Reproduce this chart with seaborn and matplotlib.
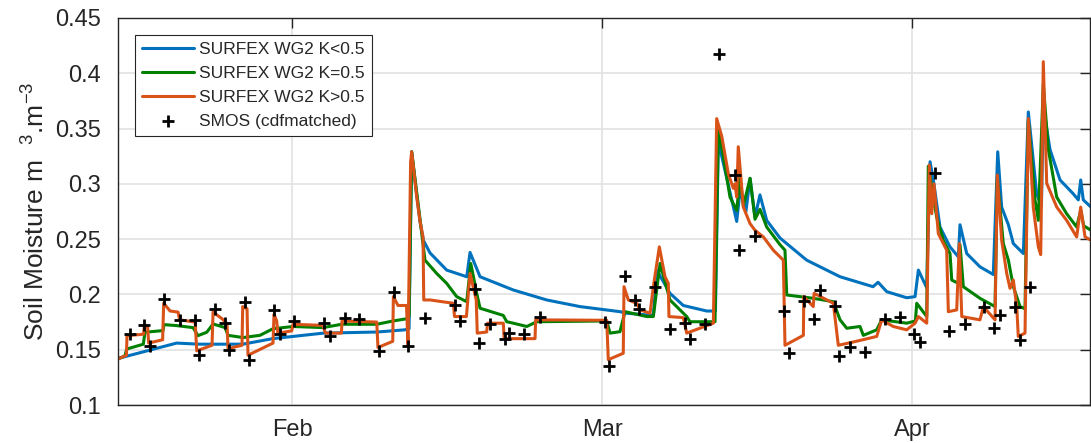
import matplotlib
matplotlib.use("Agg")
import matplotlib.pyplot as plt
import seaborn as sns
from matplotlib.ticker import FormatStrFormatter

sns.set_style("whitegrid")
plt.rcParams["font.family"] = ["Liberation Sans", "DejaVu Sans"]
plt.rcParams["mathtext.fontset"] = "custom"
plt.rcParams["mathtext.rm"] = "Liberation Sans"

# x in days; month ticks sit at equal spacing in the source axis
month_pos = [31, 61, 91]
month_lab = ["Feb", "Mar", "Apr"]

# SURFEX WG2 K<0.5
blue_t = [14.1, 19.8, 22.0, 26.2, 29.1, 34.0, 39.2, 41.9, 42.3, 42.55,
          43.04, 43.36, 43.68, 44.33, 45.94, 47.88, 48.2, 49.17, 52.39, 55.62,
          58.84, 62.71, 63.36, 65.94, 66.27, 67.55, 68.84, 71.11, 71.95, 72.23,
          72.56, 74.01, 74.33, 74.9, 75.3, 75.78, 76.26, 76.91, 78.2, 80.78,
          84.01, 87.2, 87.69, 88.53, 90.46, 91.27, 91.59, 92.4, 92.72, 93.04,
          93.68, 94.65, 95.46, 95.62, 96.27, 97.55, 98.84, 99.27, 99.65, 100.3,
          100.78, 101.75, 102.23, 103.04, 103.5, 103.68, 104.33, 105.3, 106.58, 107.07,
          107.3, 107.55, 108.3]
blue_v = [0.142, 0.156, 0.155, 0.155, 0.160, 0.165, 0.166, 0.168, 0.169, 0.329,
          0.29, 0.266, 0.249, 0.2375, 0.222, 0.216, 0.238, 0.216, 0.204, 0.195,
          0.189, 0.1844, 0.183, 0.181, 0.222, 0.201, 0.190, 0.185, 0.185, 0.337,
          0.325, 0.266, 0.294, 0.275, 0.305, 0.27, 0.29, 0.267, 0.251, 0.231,
          0.216, 0.207, 0.211, 0.2025, 0.197, 0.198, 0.222, 0.206, 0.320, 0.3035,
          0.261, 0.243, 0.234, 0.263, 0.237, 0.225, 0.218, 0.329, 0.279, 0.263,
          0.246, 0.237, 0.365, 0.291, 0.28, 0.37, 0.331, 0.3035, 0.291, 0.2855,
          0.3035, 0.2855, 0.279]

# SURFEX WG2 K=0.5
green_t = [14.1, 14.8, 14.97, 16.58, 16.74, 18.49, 18.58, 19.81, 21.39, 21.87,
           22.72, 23.33, 24.49, 24.78, 26.23, 27.87, 29.13, 31.07, 33.97, 35.78,
           39.17, 40.75, 42.07, 42.3, 42.55, 43.36, 43.84, 44.97, 45.94, 46.91,
           47.88, 48.27, 48.85, 49.17, 51.42, 51.75, 52.39, 53.69, 54.65, 61.43,
           61.75, 62.71, 63.2, 65.3, 65.94, 66.59, 67.55, 69.17, 69.49, 71.91,
           72.23, 72.71, 73.36, 74.01, 74.33, 74.65, 75.3, 75.78, 76.26, 76.91,
           78.2, 78.68, 78.85, 81.42, 83.36, 84.01, 84.66, 85.94, 86.26, 87.56,
           88.04, 90.46, 91.3, 91.43, 92.4, 92.55, 93.36, 94.0, 94.65, 94.82,
           95.46, 95.62, 95.94, 97.55, 99.01, 99.23, 99.81, 100.3, 100.78, 101.43,
           101.91, 102.23, 102.88, 103.2, 103.68, 104.17, 104.98, 105.94, 106.91, 107.3,
           107.6, 108.3]
green_v = [0.1415, 0.1445, 0.1506, 0.155, 0.1658, 0.1673, 0.1727, 0.1718, 0.170, 0.1627,
           0.1658, 0.1733, 0.170, 0.163, 0.161, 0.163, 0.169, 0.171, 0.170, 0.173,
           0.173, 0.176, 0.178, 0.18, 0.329, 0.268, 0.231, 0.219, 0.210, 0.198,
           0.1934, 0.228, 0.201, 0.1875, 0.181, 0.1753, 0.174, 0.171, 0.1753, 0.176,
           0.165, 0.1663, 0.1844, 0.180, 0.180, 0.228, 0.195, 0.180, 0.1753, 0.1753,
           0.35, 0.325, 0.288, 0.276, 0.3065, 0.28, 0.305, 0.268, 0.277, 0.261,
           0.245, 0.240, 0.1995, 0.1965, 0.1934, 0.177, 0.1694, 0.171, 0.163, 0.168,
           0.177, 0.174, 0.176, 0.192, 0.180, 0.316, 0.270, 0.249, 0.237, 0.213,
           0.210, 0.245, 0.207, 0.1965, 0.189, 0.305, 0.246, 0.231, 0.207, 0.189,
           0.187, 0.357, 0.2855, 0.267, 0.39, 0.331, 0.288, 0.273, 0.261, 0.276,
           0.262, 0.258]

# SURFEX WG2 K>0.5
orange_t = [14.1, 14.95, 15.0, 16.6, 16.7, 17.0, 17.1, 18.45, 18.55, 19.17,
            19.94, 20.1, 21.6, 21.75, 23.23, 23.33, 24.2, 24.68, 24.78, 26.13,
            26.2, 26.62, 26.71, 29.13, 29.23, 29.49, 29.6, 30.94, 31.07, 33.97,
            34.2, 35.75, 35.81, 39.17, 39.29, 40.72, 40.78, 41.23, 42.05, 42.2,
            42.45, 42.55, 43.04, 43.36, 43.65, 43.72, 44.33, 46.58, 46.7, 47.85,
            48.2, 48.8, 48.9, 49.81, 49.9, 51.42, 51.5, 54.49, 54.55, 61.43,
            61.58, 63.03, 63.1, 63.52, 64.33, 64.65, 65.62, 65.94, 66.52, 67.07,
            67.39, 67.45, 68.84, 69.17, 71.75, 72.07, 72.56, 73.2, 73.68, 73.84,
            74.01, 74.16, 74.65, 75.3, 75.78, 76.59, 77.55, 78.52, 78.68, 80.46,
            80.5, 81.42, 81.5, 83.36, 83.84, 85.3, 87.56, 88.04, 89.16, 90.46,
            91.27, 91.59, 92.4, 92.65, 92.88, 93.1, 93.52, 94.33, 94.49, 95.3,
            95.55, 95.79, 97.55, 97.88, 99.01, 99.23, 99.65, 100.14, 100.46, 100.78,
            101.11, 101.26, 101.91, 102.23, 102.71, 103.2, 103.43, 103.68, 104.01, 104.98,
            105.94, 106.91, 107.3, 107.72, 108.3]
orange_v = [0.1415, 0.145, 0.1627, 0.164, 0.173, 0.170, 0.156, 0.159, 0.192, 0.185,
            0.184, 0.177, 0.175, 0.149, 0.154, 0.184, 0.178, 0.1735, 0.151, 0.154,
            0.189, 0.187, 0.145, 0.156, 0.182, 0.176, 0.165, 0.167, 0.173, 0.172,
            0.165, 0.165, 0.176, 0.175, 0.152, 0.1576, 0.198, 0.19, 0.19, 0.153,
            0.32, 0.329, 0.288, 0.266, 0.252, 0.195, 0.195, 0.192, 0.18, 0.18,
            0.219, 0.195, 0.165, 0.166, 0.174, 0.174, 0.160, 0.160, 0.177, 0.1766,
            0.141, 0.1468, 0.207, 0.195, 0.192, 0.186, 0.183, 0.207, 0.243, 0.216,
            0.210, 0.180, 0.179, 0.165, 0.174, 0.359, 0.343, 0.309, 0.296, 0.30,
            0.288, 0.3336, 0.279, 0.264, 0.258, 0.252, 0.240, 0.231, 0.154, 0.163,
            0.198, 0.189, 0.201, 0.192, 0.154, 0.157, 0.162, 0.177, 0.171, 0.168,
            0.174, 0.180, 0.174, 0.317, 0.273, 0.30, 0.255, 0.240, 0.1844, 0.186,
            0.246, 0.180, 0.177, 0.189, 0.177, 0.308, 0.249, 0.219, 0.2055, 0.213,
            0.189, 0.162, 0.165, 0.359, 0.279, 0.243, 0.236, 0.4105, 0.3005, 0.279,
            0.267, 0.252, 0.279, 0.252, 0.249]

# SMOS (cdfmatched)
smos_t = [15.29, 16.65, 17.23, 18.58, 20.13, 21.58, 22.0, 23.52, 24.49, 24.9,
          26.42, 26.84, 29.26, 29.81, 31.17, 34.07, 34.65, 36.1, 37.46, 39.42,
          40.87, 42.23, 43.84, 46.75, 47.23, 48.68, 49.1, 50.13, 51.59, 52.0,
          53.45, 54.97, 61.26, 61.68, 63.2, 64.17, 64.58, 66.1, 67.55, 69.01,
          69.49, 70.94, 72.33, 73.84, 74.26, 75.78, 78.62, 79.1, 80.55, 81.49,
          82.07, 83.52, 83.94, 84.97, 86.43, 88.36, 89.81, 91.17, 91.75, 93.2,
          94.59, 96.1, 97.97, 98.94, 99.49, 100.94, 101.43, 102.4]
smos_v = [0.164, 0.172, 0.153, 0.196, 0.177, 0.177, 0.145, 0.187, 0.174, 0.150,
          0.193, 0.141, 0.186, 0.164, 0.176, 0.174, 0.162, 0.179, 0.178, 0.149,
          0.202, 0.153, 0.179, 0.190, 0.176, 0.2047, 0.156, 0.1733, 0.1594, 0.165,
          0.1642, 0.180, 0.1748, 0.1353, 0.2167, 0.195, 0.187, 0.207, 0.1685, 0.174,
          0.160, 0.1733, 0.4174, 0.308, 0.240, 0.253, 0.185, 0.1467, 0.1943, 0.178,
          0.204, 0.1896, 0.1443, 0.1527, 0.148, 0.1775, 0.180, 0.1642, 0.1567, 0.310,
          0.167, 0.1733, 0.189, 0.170, 0.1814, 0.189, 0.159, 0.207]

fig = plt.figure(figsize=(10.91, 4.43), dpi=100)
ax = fig.add_axes([118 / 1091, 1 - 405 / 443, 972 / 1091, 387 / 443])

lw = 2.2
sns.lineplot(x=blue_t, y=blue_v, ax=ax, color="#0072BD", lw=lw,
             estimator=None, sort=False, label="SURFEX WG2 K<0.5")
sns.lineplot(x=green_t, y=green_v, ax=ax, color="#008000", lw=lw,
             estimator=None, sort=False, label="SURFEX WG2 K=0.5")
sns.lineplot(x=orange_t, y=orange_v, ax=ax, color="#D95319", lw=lw,
             estimator=None, sort=False, label="SURFEX WG2 K>0.5")
sns.scatterplot(x=smos_t, y=smos_v, ax=ax, marker="+", color="black",
                s=80, linewidth=2, label="SMOS (cdfmatched)", zorder=5)

ax.set_xlim(14.13, 108.2)
ax.set_ylim(0.1, 0.45)
ax.set_xticks(month_pos)
ax.set_xticklabels(month_lab)
ax.set_yticks([0.1, 0.15, 0.2, 0.25, 0.3, 0.35, 0.4, 0.45])
ax.yaxis.set_major_formatter(FormatStrFormatter("%g"))

ax.grid(True, color="#e2e2e2", lw=1.2)
for s in ax.spines.values():
    s.set_color("#262626")
    s.set_linewidth(1.0)
ax.tick_params(direction="in", length=7, width=1, colors="#262626",
               top=True, right=True, labelsize=17)
ax.tick_params(axis="y", pad=12)
ax.tick_params(axis="x", pad=10)

ax.set_xlabel("")
ax.set_ylabel("Soil Moisture m  $\\mathregular{^{3}}$.m$\\mathregular{^{-3}}$",
              fontsize=19, color="#262626", labelpad=4)

leg = ax.legend(loc="upper left", bbox_to_anchor=(17 / 972, 1 - 17 / 387),
                borderaxespad=0, fontsize=12.5, frameon=True, fancybox=False,
                framealpha=1, edgecolor="#262626", handlelength=3,
                handletextpad=0.3, borderpad=0.4, labelspacing=0.5)
leg.get_frame().set_linewidth(0.8)

fig.savefig("out.png", dpi=100)
